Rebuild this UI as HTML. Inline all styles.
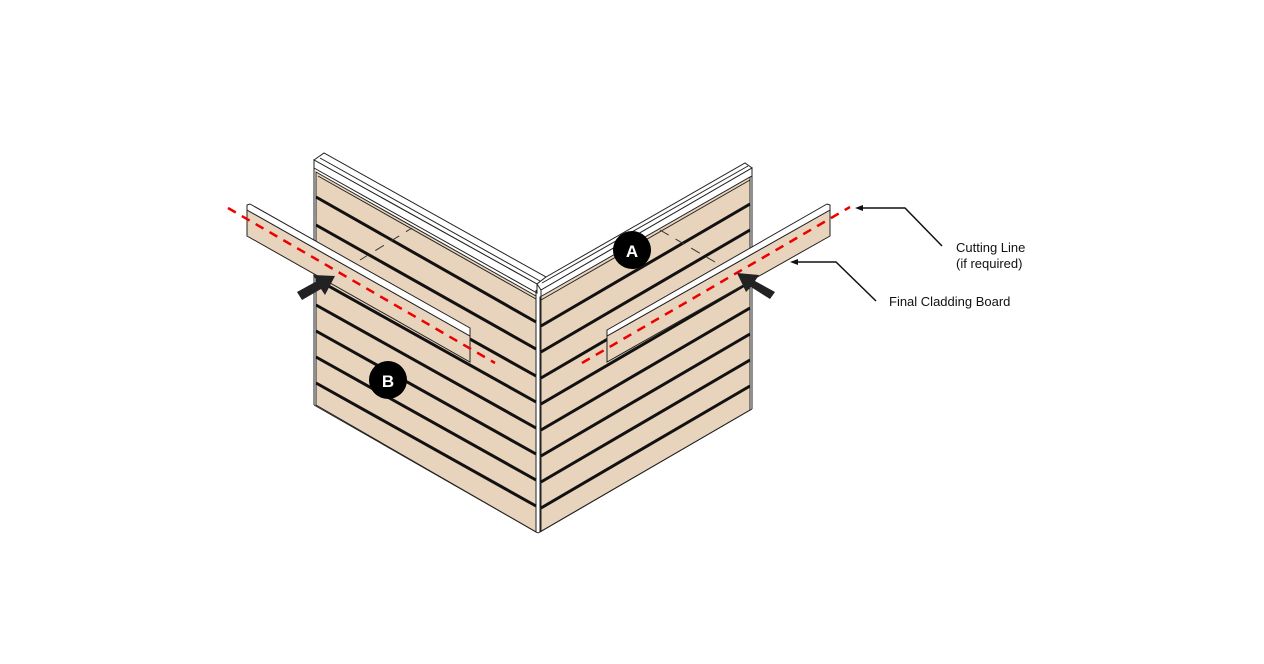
<!DOCTYPE html>
<html><head><meta charset="utf-8"><style>
html,body{margin:0;padding:0;background:#fff;}
svg{display:block}
text{font-family:"Liberation Sans",sans-serif;font-size:13px;fill:#111}
</style></head><body>
<svg width="1264" height="664" viewBox="0 0 1264 664" xmlns="http://www.w3.org/2000/svg">
<g stroke="#222" stroke-width="1">
<!-- top cap -->
<polygon points="314,160 324,153 546,277 537,284" fill="#fff"/>
<polygon points="537,284 546,277 745,163 752,168 541,290" fill="#fff"/>
<line x1="320" y1="158" x2="540" y2="281"/>
<line x1="542" y1="283" x2="748" y2="166"/>
<polygon points="314,160 537,284 537,293 314,168" fill="#fff"/>
<polygon points="541,290 752,168 752,176 541,298" fill="#fff"/>
<!-- walls -->
<polygon points="316,172 536,296 536,532 316,405" fill="#e8d4bc"/>
<polygon points="540,297 750,177 750,410 540,532" fill="#e8d4bc"/>
<line x1="318" y1="176" x2="536" y2="299"/>
<line x1="541" y1="300" x2="750" y2="180"/>
<line x1="314" y1="160" x2="314" y2="405"/>
<line x1="536" y1="290" x2="536" y2="532"/>
<line x1="541" y1="290" x2="541" y2="532"/>
<line x1="752" y1="168" x2="752" y2="409"/>
<line x1="314" y1="405" x2="538" y2="533"/>
<line x1="538" y1="533" x2="752" y2="409"/>
</g>
<g stroke="#111" stroke-width="3">
<line x1="316" y1="197" x2="536" y2="322"/>
<line x1="316" y1="225" x2="536" y2="349"/>
<line x1="316" y1="253" x2="536" y2="376"/>
<line x1="316" y1="279" x2="536" y2="402"/>
<line x1="316" y1="305" x2="536" y2="428"/>
<line x1="316" y1="331" x2="536" y2="454"/>
<line x1="316" y1="357" x2="536" y2="480"/>
<line x1="316" y1="383" x2="536" y2="506"/>
<line x1="541" y1="326" x2="750" y2="204"/>
<line x1="541" y1="352" x2="750" y2="230"/>
<line x1="541" y1="378" x2="750" y2="256"/>
<line x1="541" y1="404" x2="750" y2="282"/>
<line x1="541" y1="430" x2="750" y2="308"/>
<line x1="541" y1="456" x2="750" y2="334"/>
<line x1="541" y1="482" x2="750" y2="360"/>
<line x1="541" y1="508" x2="750" y2="386"/>
</g>
<g stroke="#333" stroke-width="1" stroke-dasharray="10,8">
<line x1="360" y1="260" x2="412" y2="228"/>
<line x1="660" y1="230" x2="715" y2="262"/>
</g>
<!-- left board -->
<g stroke="#222" stroke-width="1">
<polygon points="247,210 470,336 470,362 247,236" fill="#e8d4bc"/>
<polygon points="247,205 250,204 470,328 470,336 247,210" fill="#fff"/>
<!-- right board -->
<polygon points="607,336 830,210 830,236 607,362" fill="#e8d4bc"/>
<polygon points="607,330 827,204 830,205 830,210 607,336" fill="#fff"/>
</g>
<g stroke="#e00" stroke-width="2.5" stroke-dasharray="9,7">
<line x1="228" y1="208" x2="495" y2="363"/>
<line x1="582" y1="363" x2="850" y2="207"/>
</g>
<!-- arrows -->
<polygon points="297,292 317,281 313,275 335,276 325,295 321,289 302,300" fill="#222"/>
<polygon points="775,292 755,281 759,275 737,273 746,292 751,287 770,299" fill="#222"/>
<!-- labels -->
<circle cx="632" cy="250" r="19" fill="#000"/>
<text x="632" y="257" text-anchor="middle" style="fill:#fff;font-weight:bold;font-size:17px">A</text>
<circle cx="388" cy="380" r="19" fill="#000"/>
<text x="388" y="387" text-anchor="middle" style="fill:#fff;font-weight:bold;font-size:17px">B</text>
<!-- leaders -->
<g stroke="#111" stroke-width="1.5" fill="none">
<polyline points="860,208 905,208 942,246"/>
<polyline points="795,262 836,262 876,301"/>
</g>
<polygon points="855,208 863,205 863,211" fill="#111"/>
<polygon points="790,262 798,259 798,265" fill="#111"/>
<text x="956" y="252">Cutting Line</text>
<text x="956" y="268">(if required)</text>
<text x="889" y="306">Final Cladding Board</text>
</svg>
</body></html>
